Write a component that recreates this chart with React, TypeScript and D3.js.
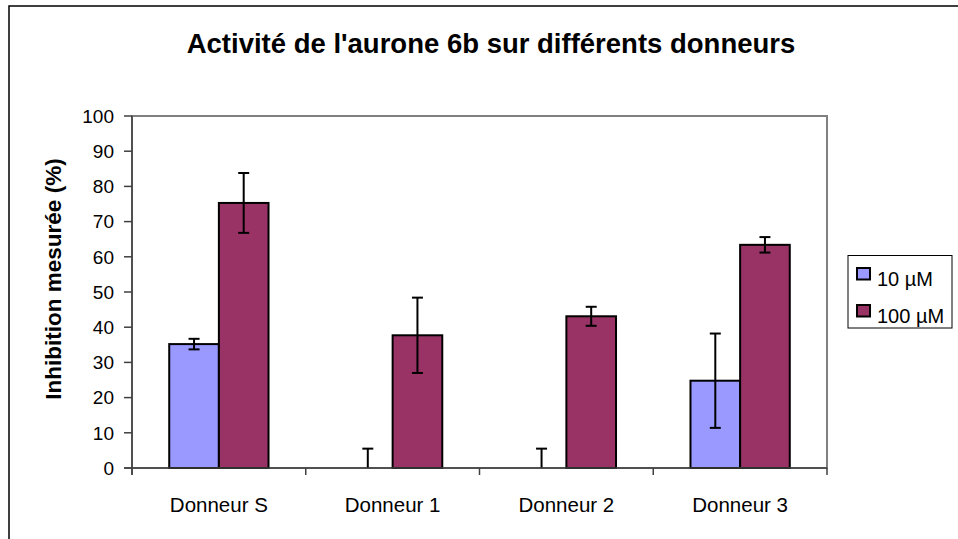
import React from "react";
import * as d3 from "d3";

// Donor categories and measured inhibition (%) with error magnitudes
const categories = ["Donneur S", "Donneur 1", "Donneur 2", "Donneur 3"];
const seriesNames = ["10 µM", "100 µM"];
const values10 = [35.2, 0, 0, 24.8];
const errors10 = [1.5, 5.5, 5.5, 13.4];
const values100 = [75.3, 37.7, 43.1, 63.4];
const errors100 = [8.5, 10.7, 2.7, 2.2];
const yTicks = [0, 10, 20, 30, 40, 50, 60, 70, 80, 90, 100];
const colors = ["#9999FF", "#993366"];

const title = "Activité de l'aurone 6b sur différents donneurs";
const yLabel = "Inhibition mesurée (%)";

const W = 958;
const H = 539;
const FONT = "Arial, 'Liberation Sans', sans-serif";

export default function App() {
  const plot = { left: 132, right: 827, top: 116, bottom: 468 };

  const x = d3
    .scaleBand<string>()
    .domain(categories)
    .range([plot.left, plot.right])
    .paddingInner(0)
    .paddingOuter(0);
  const y = d3.scaleLinear().domain([0, 100]).range([plot.bottom, plot.top]);

  const step = x.bandwidth();
  // Excel-style gap width of 150%: group = 2 bars, gap = 1.5 bars
  const barW = step / 3.5;
  const inner = d3
    .scaleBand<number>()
    .domain([0, 1])
    .range([0.75 * barW, 0.75 * barW + 2 * barW]);

  const series = [
    { name: seriesNames[0], values: values10, errors: errors10, color: colors[0] },
    { name: seriesNames[1], values: values100, errors: errors100, color: colors[1] },
  ];

  const clampY = (v: number) => Math.max(0, Math.min(100, v));

  return (
    <svg
      width={W}
      height={H}
      style={{ position: "absolute", left: 0, top: 0, background: "#fff" }}
      fontFamily={FONT}
    >
      <rect x={0} y={0} width={W} height={H} fill="#fff" />
      {/* chart frame */}
      <rect x={9} y={6} width={W + 20} height={H + 20} fill="none" stroke="#000" strokeWidth={1.5} />

      <text x={491} y={53} textAnchor="middle" fontSize={27.5} fontWeight="bold" fill="#000">
        {title}
      </text>

      {/* plot area border */}
      <rect
        x={plot.left}
        y={plot.top}
        width={plot.right - plot.left}
        height={plot.bottom - plot.top}
        fill="#fff"
        stroke="#808080"
        strokeWidth={2}
      />

      {/* bars */}
      {series.map((s, si) =>
        categories.map((c, ci) => {
          const v = s.values[ci];
          if (v <= 0) return null;
          const bx = (x(c) as number) + (inner(si) as number);
          return (
            <rect
              key={`b-${si}-${ci}`}
              x={bx}
              y={y(v)}
              width={inner.bandwidth()}
              height={y(0) - y(v)}
              fill={s.color}
              stroke="#000"
              strokeWidth={2}
            />
          );
        })
      )}

      {/* error bars */}
      {series.map((s, si) =>
        categories.map((c, ci) => {
          const v = s.values[ci];
          const e = s.errors[ci];
          const cx = (x(c) as number) + (inner(si) as number) + inner.bandwidth() / 2;
          const hi = v + e;
          const lo = v - e;
          const cap = 5.5;
          return (
            <g key={`e-${si}-${ci}`} stroke="#000" strokeWidth={2}>
              <line x1={cx} x2={cx} y1={y(clampY(hi))} y2={y(clampY(lo))} />
              {hi <= 100 && <line x1={cx - cap} x2={cx + cap} y1={y(hi)} y2={y(hi)} />}
              {lo >= 0 && <line x1={cx - cap} x2={cx + cap} y1={y(lo)} y2={y(lo)} />}
            </g>
          );
        })
      )}

      {/* y axis */}
      <line x1={plot.left} x2={plot.left} y1={plot.top} y2={plot.bottom + 7} stroke="#404040" strokeWidth={1.5} />
      {yTicks.map((t) => (
        <g key={`yt-${t}`}>
          <line x1={plot.left - 8} x2={plot.left} y1={y(t)} y2={y(t)} stroke="#404040" strokeWidth={1.5} />
          <text x={114} y={y(t)} dy="0.36em" textAnchor="end" fontSize={19} fill="#000">
            {t}
          </text>
        </g>
      ))}

      {/* x axis */}
      <line x1={plot.left - 8} x2={plot.right} y1={plot.bottom} y2={plot.bottom} stroke="#404040" strokeWidth={1.5} />
      {[...categories.map((c) => x(c) as number), plot.right].map((tx, i) => (
        <line key={`xt-${i}`} x1={tx} x2={tx} y1={plot.bottom} y2={plot.bottom + 7} stroke="#404040" strokeWidth={1.5} />
      ))}
      {categories.map((c) => (
        <text
          key={`xl-${c}`}
          x={(x(c) as number) + step / 2}
          y={512}
          textAnchor="middle"
          fontSize={20.5}
          fill="#000"
        >
          {c}
        </text>
      ))}

      <text
        transform={`translate(61,279) rotate(-90)`}
        textAnchor="middle"
        fontSize={22.5}
        fontWeight="bold"
        fill="#000"
      >
        {yLabel}
      </text>

      {/* legend */}
      <rect x={848} y={255.5} width={104} height={72.5} fill="#fff" stroke="#000" strokeWidth={1} />
      {series.map((s, i) => (
        <g key={`lg-${i}`}>
          <rect x={857} y={268 + i * 37} width={13} height={11.5} fill={s.color} stroke="#000" strokeWidth={2} />
          <text x={877} y={285.5 + i * 37} fontSize={20} fill="#000">
            {s.name}
          </text>
        </g>
      ))}
    </svg>
  );
}
